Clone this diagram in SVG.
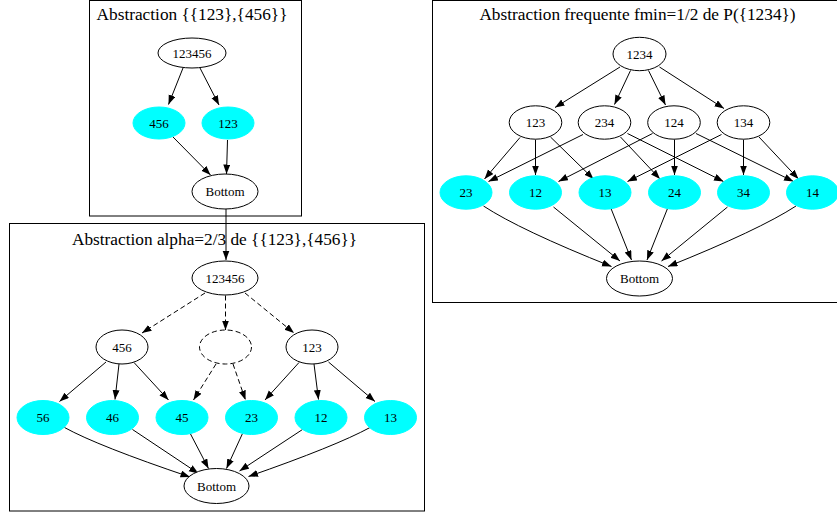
<svg xmlns="http://www.w3.org/2000/svg" width="837" height="515" viewBox="0 0 837 515">
<defs>
<marker id="arr" markerUnits="userSpaceOnUse" markerWidth="10" markerHeight="8" refX="9.5" refY="3.5" orient="auto">
<path d="M0,0 L9.5,3.5 L0,7 z" fill="#000"/>
</marker>
</defs>
<style>
.cl{fill:#fff;stroke:#000;stroke-width:1}
.n{fill:#fff;stroke:#000;stroke-width:1}
.c{fill:#00ffff;stroke:#00ffff;stroke-width:1}
.d{fill:#fff;stroke:#000;stroke-width:1;stroke-dasharray:5,3}
text{font-family:"Liberation Serif","Times New Roman",serif;fill:#000}
.t{font-size:17.3px;text-anchor:middle}
.l{font-size:13px;text-anchor:middle}
.e{fill:none;stroke:#000;stroke-width:1;marker-end:url(#arr)}
.ed{fill:none;stroke:#000;stroke-width:1;stroke-dasharray:5,3;marker-end:url(#arr)}
</style>
<rect width="837" height="515" fill="#fff"/>
<g id="clusters">
<rect class="cl" x="89.5" y="0.5" width="212" height="215.5"/>
<rect class="cl" x="9.5" y="223.5" width="415" height="287.5"/>
<rect class="cl" x="432.5" y="0.5" width="410" height="302"/>
<text class="t" x="192" y="20">Abstraction {{123},{456}}</text>
<text class="t" x="214.5" y="245">Abstraction alpha=2/3 de {{123},{456}}</text>
<text class="t" x="637.5" y="20">Abstraction frequente fmin=1/2 de P({1234})</text>
</g>
<g id="edges">
<path class="e" d="M183,68 L168.5,104.5"/>
<path class="e" d="M200,68 L219,105"/>
<path class="e" d="M173,137 L210.5,175"/>
<path class="e" d="M227.5,140 L226.5,174"/>
<path class="e" d="M226,209 L226,260"/>
<path class="ed" d="M205,293 L142,333"/>
<path class="ed" d="M225.5,295.5 L225.5,330"/>
<path class="ed" d="M245,293 L294,333"/>
<path class="e" d="M106,362 L59.5,401.5"/>
<path class="e" d="M119,364 L115,399.5"/>
<path class="e" d="M134,362.5 L168.5,400"/>
<path class="ed" d="M216,364 L193.5,400"/>
<path class="ed" d="M233,364 L245.5,400"/>
<path class="e" d="M299,362.5 L265,400"/>
<path class="e" d="M314,364 L318.5,399.5"/>
<path class="e" d="M328.5,362 L375,401.5"/>
<path class="e" d="M64.5,427.5 Q98,446 190,477"/>
<path class="e" d="M132.5,429.5 L198.5,473.5"/>
<path class="e" d="M190,433 L208.5,468.5"/>
<path class="e" d="M242.5,433.5 L226.5,468.5"/>
<path class="e" d="M302.5,429.5 L239.5,471"/>
<path class="e" d="M370,427.5 Q336,446 248.5,476.5"/>
<path class="e" d="M620,67 L555,107.5"/>
<path class="e" d="M630.5,70.5 L614.5,104.5"/>
<path class="e" d="M648.5,70.5 L665.5,105"/>
<path class="e" d="M659.5,67 L724,108.5"/>
<path class="e" d="M520,137.5 L484.5,179"/>
<path class="e" d="M535.5,139.5 L535.5,175"/>
<path class="e" d="M550.5,137 L593.5,179"/>
<path class="e" d="M583,134.5 L488.5,181.5"/>
<path class="e" d="M620.5,137 L660,179"/>
<path class="e" d="M627.5,133.5 L723.5,181.5"/>
<path class="e" d="M652.5,133.5 L558.5,181.5"/>
<path class="e" d="M674.5,139.5 L674.5,175"/>
<path class="e" d="M696,133.5 L793.5,181.5"/>
<path class="e" d="M721.5,134.5 L627.5,181.5"/>
<path class="e" d="M743.5,139.5 L743.5,175"/>
<path class="e" d="M759,137 L798.5,179"/>
<path class="e" d="M483.5,206 Q520,230 611.5,266.5"/>
<path class="e" d="M553.5,207 L620,261"/>
<path class="e" d="M611,208.5 L631.5,260"/>
<path class="e" d="M667.5,208.5 L647,260"/>
<path class="e" d="M727.5,207 L661.5,261"/>
<path class="e" d="M796,206 Q759,230 668,266.5"/>
</g>
<g id="a_123456"><ellipse class="n" cx="192" cy="53" rx="34" ry="15"/><text class="l" x="192" y="57.5">123456</text></g>
<g id="a_456"><ellipse class="c" cx="159" cy="123" rx="26" ry="16"/><text class="l" x="159" y="127.5">456</text></g>
<g id="a_123"><ellipse class="c" cx="228" cy="123" rx="26" ry="16"/><text class="l" x="228" y="127.5">123</text></g>
<g id="a_bottom"><ellipse class="n" cx="225" cy="191.5" rx="33" ry="17.5"/><text class="l" x="225" y="196">Bottom</text></g>
<g id="b_123456"><ellipse class="n" cx="225" cy="278" rx="33" ry="17"/><text class="l" x="225" y="282.5">123456</text></g>
<g id="b_456"><ellipse class="n" cx="122" cy="347" rx="26" ry="17"/><text class="l" x="122" y="351.5">456</text></g>
<g id="b_empty"><ellipse class="d" cx="225.5" cy="347" rx="26" ry="17"/></g>
<g id="b_123"><ellipse class="n" cx="312" cy="347" rx="26" ry="17"/><text class="l" x="312" y="351.5">123</text></g>
<g id="b_56"><ellipse class="c" cx="43" cy="417.5" rx="26" ry="17"/><text class="l" x="43" y="422">56</text></g>
<g id="b_46"><ellipse class="c" cx="112.5" cy="417.5" rx="26" ry="17"/><text class="l" x="112.5" y="422">46</text></g>
<g id="b_45"><ellipse class="c" cx="182" cy="417.5" rx="26" ry="17"/><text class="l" x="182" y="422">45</text></g>
<g id="b_23"><ellipse class="c" cx="251.5" cy="417.5" rx="26" ry="17"/><text class="l" x="251.5" y="422">23</text></g>
<g id="b_12"><ellipse class="c" cx="321" cy="417.5" rx="26" ry="17"/><text class="l" x="321" y="422">12</text></g>
<g id="b_13"><ellipse class="c" cx="390.5" cy="417.5" rx="26" ry="17"/><text class="l" x="390.5" y="422">13</text></g>
<g id="b_bottom"><ellipse class="n" cx="216.5" cy="486" rx="32.5" ry="17.5"/><text class="l" x="216.5" y="490.5">Bottom</text></g>
<g id="c_1234"><ellipse class="n" cx="639.5" cy="54" rx="26.5" ry="16.7"/><text class="l" x="639.5" y="58.5">1234</text></g>
<g id="c_123"><ellipse class="n" cx="535.5" cy="122.5" rx="26.3" ry="16.7"/><text class="l" x="535.5" y="127">123</text></g>
<g id="c_234"><ellipse class="n" cx="604.5" cy="122.5" rx="26.3" ry="16.7"/><text class="l" x="604.5" y="127">234</text></g>
<g id="c_124"><ellipse class="n" cx="674" cy="122.5" rx="26.3" ry="16.7"/><text class="l" x="674" y="127">124</text></g>
<g id="c_134"><ellipse class="n" cx="743.5" cy="122.5" rx="26.3" ry="16.7"/><text class="l" x="743.5" y="127">134</text></g>
<g id="c_23"><ellipse class="c" cx="466" cy="192.5" rx="26" ry="16.7"/><text class="l" x="466" y="197">23</text></g>
<g id="c_12"><ellipse class="c" cx="535.5" cy="192.5" rx="26" ry="16.7"/><text class="l" x="535.5" y="197">12</text></g>
<g id="c_13"><ellipse class="c" cx="605" cy="192.5" rx="26" ry="16.7"/><text class="l" x="605" y="197">13</text></g>
<g id="c_24"><ellipse class="c" cx="674.5" cy="192.5" rx="26" ry="16.7"/><text class="l" x="674.5" y="197">24</text></g>
<g id="c_34"><ellipse class="c" cx="743.5" cy="192.5" rx="26" ry="16.7"/><text class="l" x="743.5" y="197">34</text></g>
<g id="c_14"><ellipse class="c" cx="812.5" cy="192.5" rx="26" ry="16.7"/><text class="l" x="812.5" y="197">14</text></g>
<g id="c_bottom"><ellipse class="n" cx="639.5" cy="278.5" rx="33" ry="17.5"/><text class="l" x="639.5" y="283">Bottom</text></g>
</svg>
